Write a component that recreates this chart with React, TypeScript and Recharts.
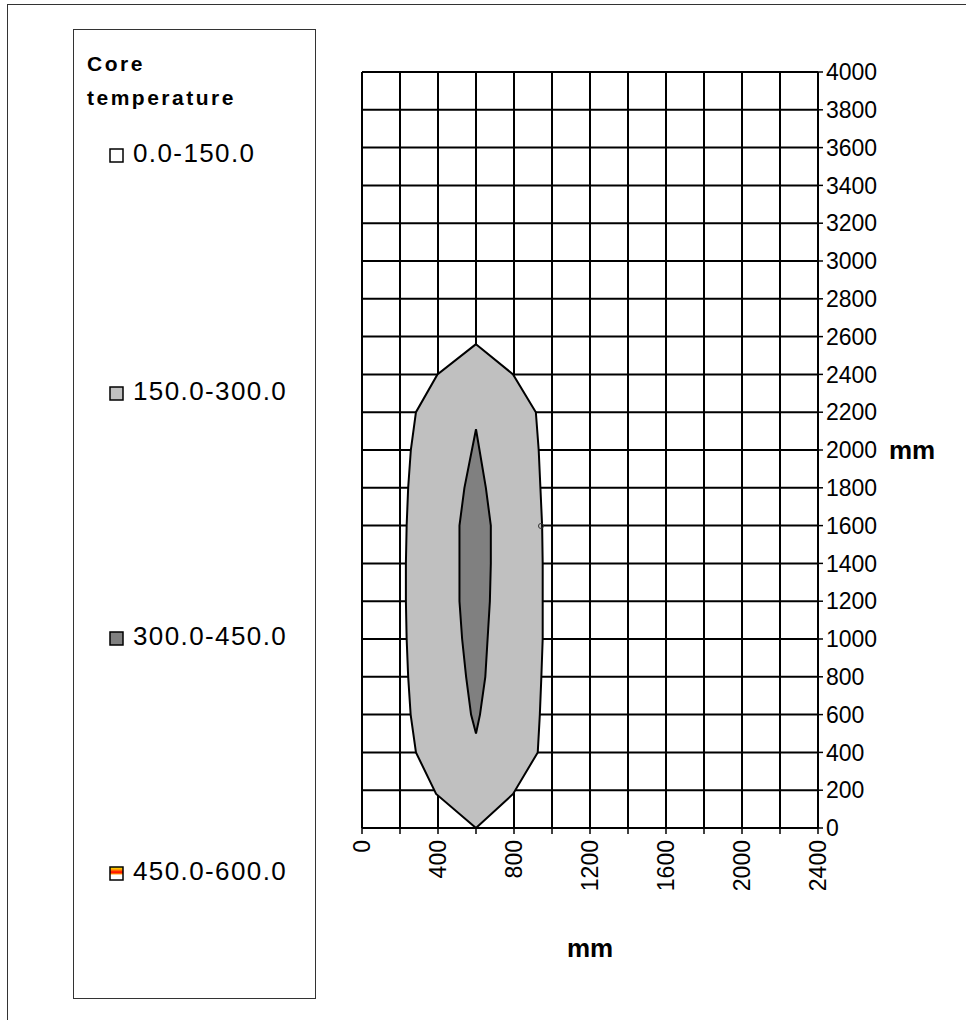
import React from "react";
import { ComposedChart, Area, XAxis, YAxis, CartesianGrid, Scatter } from "recharts";

// ---- data ----
const legendTitle = ["Core", "temperature"];
const bandLabels = ["0.0-150.0", "150.0-300.0", "300.0-450.0", "450.0-600.0"];
const bandFills = ["#ffffff", "#c0c0c0", "#808080", "url(#hotBand)"];

const depthMm = [0, 180, 400, 500, 600, 800, 1000, 1200, 1400, 1600, 1800, 2000, 2110, 2200, 2400, 2560];
const band150Left = [600, 390, 284, null, 256, 243, 235, 231, 231, 235, 243, 257, null, 284, 397, 600];
const band150Right = [600, 795, 925, null, 936, 944, 951, 951, 951, 948, 939, 930, null, 915, 795, 600];
const band300Left = [null, null, null, 600, 574, 548, 527, 513, 513, 513, 539, null, 600, null, null, null];
const band300Right = [null, null, null, 600, 621, 649, 661, 673, 678, 678, 652, null, 600, null, null, null];

const probePoints = [{ x: 942, y: 1598 }];

const xTicks = [0, 200, 400, 600, 800, 1000, 1200, 1400, 1600, 1800, 2000, 2200, 2400];
const xLabelTicks = [0, 400, 800, 1200, 1600, 2000, 2400];
const yTicks = [0, 200, 400, 600, 800, 1000, 1200, 1400, 1600, 1800, 2000, 2200, 2400, 2600, 2800, 3000, 3200, 3400, 3600, 3800, 4000];

const rows = depthMm.map((y, i) => ({
  y,
  b150: [band150Left[i], band150Right[i]],
  b300: [band300Left[i], band300Right[i]],
}));

const FONT = "Arial, 'Liberation Sans', sans-serif";

const XTick = (props: any) => {
  const { x, y, payload } = props;
  if (!xLabelTicks.includes(payload.value)) return <g />;
  return (
    <text
      x={x}
      y={y}
      transform={`rotate(-90 ${x} ${y})`}
      textAnchor="end"
      dominantBaseline="central"
      fontSize={23}
      fontFamily={FONT}
      fill="#000"
    >
      {payload.value}
    </text>
  );
};

const Legend = () => (
  <svg width={966} height={1020} style={{ position: "absolute", left: 0, top: 0, pointerEvents: "none" }}>
    <defs>
      <linearGradient id="hotBand" x1="0" y1="0" x2="0" y2="1">
        <stop offset="0" stopColor="#ffff00" />
        <stop offset="0.2" stopColor="#ff9900" />
        <stop offset="0.4" stopColor="#ff0000" />
        <stop offset="0.55" stopColor="#ff9900" />
        <stop offset="0.6" stopColor="#ffffff" />
        <stop offset="1" stopColor="#ffffff" />
      </linearGradient>
    </defs>
    <rect x={73.5} y={29.5} width={242} height={969} fill="#fff" stroke="#333" strokeWidth={1} />
    {legendTitle.map((t, i) => (
      <text key={t} x={87} y={71 + i * 34} fontSize={21} fontWeight="bold" letterSpacing={2.5} fontFamily={FONT} fill="#000">
        {t}
      </text>
    ))}
    {bandLabels.map((t, i) => {
      const base = [162, 400, 645, 880][i];
      return (
        <g key={t}>
          <rect x={110} y={base - 13} width={13} height={13} fill={bandFills[i]} stroke="#000" strokeWidth={1.5} />
          <text x={133} y={base} fontSize={26} letterSpacing={1.4} fontFamily={FONT} fill="#000">
            {t}
          </text>
        </g>
      );
    })}
  </svg>
);

export default function App() {
  return (
    <div style={{ position: "absolute", left: 0, top: 0, width: 966, height: 1020, background: "#fff", overflow: "hidden" }}>
      <div style={{ position: "absolute", left: 7, top: 4, width: 1000, height: 1100, borderLeft: "1px solid #333", borderTop: "1px solid #333" }} />
      <Legend />
      <div style={{ position: "absolute", left: 0, top: 0 }}>
        <ComposedChart
          width={966}
          height={1020}
          layout="vertical"
          data={rows}
          margin={{ top: 72, right: 88, bottom: 52, left: 362 }}
        >
          <XAxis
            type="number"
            dataKey="x"
            domain={[0, 2400]}
            ticks={xTicks}
            interval={0}
            allowDataOverflow
            height={140}
            tickSize={6}
            tickMargin={6}
            tick={<XTick />}
            axisLine={{ stroke: "#000", strokeWidth: 1.5 }}
            tickLine={{ stroke: "#000", strokeWidth: 1.5 }}
            label={{
              content: (p: any) => {
                const vb = p.viewBox;
                return (
                  <text x={vb.x + vb.width / 2} y={vb.y + 120} textAnchor="middle" dominantBaseline="central" fontSize={26} fontWeight="bold" fontFamily={FONT} fill="#000">
                    mm
                  </text>
                );
              },
            }}
          />
          <YAxis
            type="number"
            dataKey="y"
            orientation="right"
            reversed
            domain={[0, 4000]}
            ticks={yTicks}
            interval={0}
            allowDataOverflow
            width={60}
            tickSize={5}
            tickMargin={3}
            tick={{ fill: "#000", fontSize: 23, fontFamily: FONT }}
            axisLine={{ stroke: "#000", strokeWidth: 1.5 }}
            tickLine={{ stroke: "#000", strokeWidth: 1.5 }}
            label={{
              content: (p: any) => {
                const vb = p.viewBox;
                return (
                  <text x={vb.x + 71} y={vb.y + vb.height / 2} textAnchor="start" dominantBaseline="central" fontSize={26} fontWeight="bold" fontFamily={FONT} fill="#000">
                    mm
                  </text>
                );
              },
            }}
          />
          <Area
            type="linear"
            dataKey="b150"
            connectNulls
            fill="#c0c0c0"
            fillOpacity={1}
            stroke="#000"
            strokeWidth={2}
            dot={false}
            activeDot={false}
            isAnimationActive={false}
          />
          <Area
            type="linear"
            dataKey="b300"
            connectNulls
            fill="#808080"
            fillOpacity={1}
            stroke="#000"
            strokeWidth={2}
            dot={false}
            activeDot={false}
            isAnimationActive={false}
          />
          <CartesianGrid stroke="#000" strokeWidth={2} strokeDasharray="0" horizontalValues={yTicks} verticalValues={xTicks} />
          <Scatter data={probePoints} dataKey="y" fill="none" stroke="#333" strokeWidth={1} shape={(p: any) => <circle cx={p.cx} cy={p.cy} r={2.5} fill="none" stroke="#333" />} isAnimationActive={false} />
        </ComposedChart>
      </div>
    </div>
  );
}
